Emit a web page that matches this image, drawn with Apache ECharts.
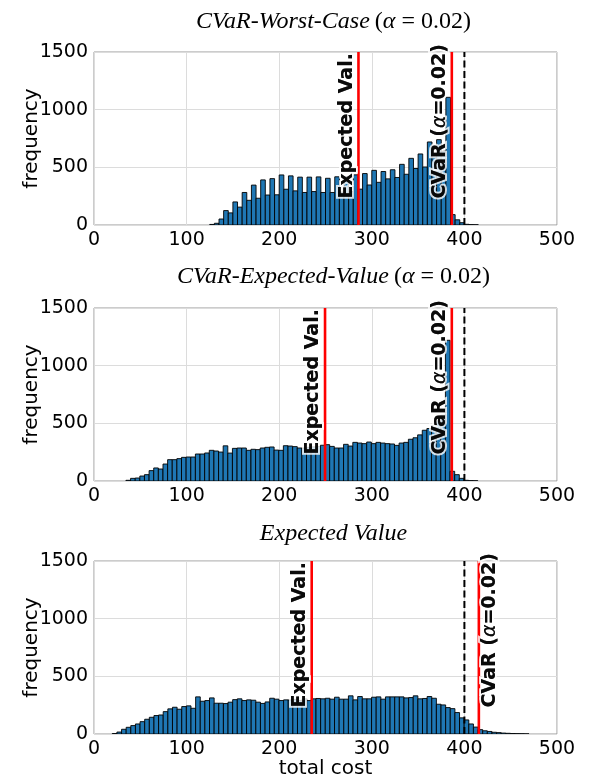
<!DOCTYPE html>
<html>
<head>
<meta charset="utf-8">
<script src="https://cdn.jsdelivr.net/npm/echarts@6/dist/echarts.min.js"></script>
<style>
html,body{margin:0;padding:0;background:#fff;}
#chart{width:592px;height:776px;}
</style>
</head>
<body>
<div id="chart"></div>
<script>
// ---------- data ----------
const binWidth = 5;
const xTicks = [0, 100, 200, 300, 400, 500];
const yTicks = [0, 500, 1000, 1500];

// Panel 1: CVaR-Worst-Case
const p1BinStart = 125;
const p1Counts = [5, 15, 52, 125, 105, 200, 155, 282, 214, 346, 232, 391, 260, 402, 262, 434, 310, 426, 296, 415,
  282, 415, 290, 417, 282, 405, 282, 418, 285, 420, 290, 435, 311, 446, 347, 474, 370, 464, 400, 479,
  412, 526, 440, 578, 490, 616, 503, 720, 590, 740, 640, 1107, 90, 45, 20, 6, 3, 2];
const p1ExpVal = 285.6;
const p1CVaR = 386.4;

// Panel 2: CVaR-Expected-Value
const p2BinStart = 34.5;
const p2Counts = [6, 23, 26, 43, 55, 90, 113, 104, 147, 185, 185, 194, 205, 208, 208, 234, 234, 243, 266, 260,
  251, 305, 242, 283, 286, 286, 266, 275, 272, 286, 292, 295, 268, 266, 306, 303, 298, 286, 286, 292,
  296, 300, 310, 315, 300, 286, 286, 318, 303, 335, 329, 324, 338, 324, 335, 329, 324, 321, 309, 329,
  335, 362, 375, 400, 440, 455, 480, 520, 570, 1220, 84, 55, 23, 6, 3, 2];
const p2ExpVal = 249.5;
const p2CVaR = 386.4;

// Panel 3: Expected Value
const p3BinStart = 19.75;
const p3Counts = [4, 17, 41, 58, 73, 87, 107, 128, 145, 160, 165, 194, 218, 232, 215, 238, 244, 223, 322, 284,
  290, 313, 267, 267, 264, 276, 298, 305, 290, 296, 293, 276, 265, 278, 310, 302, 290, 296, 295, 300,
  290, 305, 290, 305, 308, 305, 310, 302, 319, 302, 302, 331, 296, 325, 305, 305, 319, 322, 302, 322,
  322, 322, 322, 313, 316, 331, 305, 308, 325, 310, 258, 252, 229, 220, 186, 140, 122, 87, 60, 38,
  28, 22, 15, 12, 8, 6, 4, 3, 2, 1];
const p3ExpVal = 235.1;
const p3CVaR = 415.6;

const worstCaseLine = 400;
const labelHeight = 230;

const titles = [
  ['CVaR-Worst-Case', true],
  ['CVaR-Expected-Value', true],
  ['Expected Value', false]
];

// ---------- layout ----------
const grids = [
  {left: 94, top: 52, width: 463, height: 173},
  {left: 94, top: 308, width: 463, height: 173},
  {left: 94, top: 561, width: 463, height: 173}
];
const titleTops = [5, 260, 517];

const FONT = 'DejaVu Sans';
const SERIF = 'Liberation Serif';

function toBins(start, counts) {
  return counts.map((c, i) => [start + i * binWidth, c]);
}

const panels = [
  {bins: toBins(p1BinStart, p1Counts), exp: p1ExpVal, cvar: p1CVaR, cvarSide: 'left'},
  {bins: toBins(p2BinStart, p2Counts), exp: p2ExpVal, cvar: p2CVaR, cvarSide: 'left'},
  {bins: toBins(p3BinStart, p3Counts), exp: p3ExpVal, cvar: p3CVaR, cvarSide: 'right'}
];

const xAxes = [], yAxes = [], series = [], titleOpts = [];

function richLabel(halo) {
  const border = halo ? {textBorderColor: '#fff', textBorderWidth: 4} : {textBorderWidth: 0};
  return {
    b: Object.assign({fontFamily: FONT, fontWeight: 'bold', fontSize: 19, color: '#000'}, border),
    a: Object.assign({fontFamily: FONT, fontStyle: 'italic', fontWeight: 'normal', fontSize: 19, color: '#000'}, border)
  };
}

panels.forEach((p, k) => {
  xAxes.push({
    type: 'value', gridIndex: k, min: xTicks[0], max: xTicks[xTicks.length - 1], interval: 100,
    axisLine: {show: false}, axisTick: {show: false},
    axisLabel: {color: '#000', fontFamily: FONT, fontSize: 19, margin: 6, showMaxLabel: true, showMinLabel: true,
      formatter: v => String(v)},
    splitLine: {show: true, lineStyle: {color: '#dcdcdc', width: 1}},
    name: k === 2 ? 'total cost' : '',
    nameLocation: 'middle', nameGap: 25, nameMoveOverlap: false,
    nameTextStyle: {color: '#000', fontFamily: FONT, fontSize: 20}
  });
  yAxes.push({
    type: 'value', gridIndex: k, min: yTicks[0], max: yTicks[yTicks.length - 1], interval: 500,
    axisLine: {show: false}, axisTick: {show: false},
    axisLabel: {color: '#000', fontFamily: FONT, fontSize: 19, margin: 6, formatter: v => String(v)},
    splitLine: {show: true, lineStyle: {color: '#dcdcdc', width: 1}},
    name: 'frequency', nameLocation: 'middle', nameGap: 52, nameMoveOverlap: false,
    nameTextStyle: {color: '#000', fontFamily: FONT, fontSize: 20}
  });

  // histogram bars
  series.push({
    type: 'custom', xAxisIndex: k, yAxisIndex: k, z: 2,
    data: p.bins,
    encode: {x: 0, y: 1},
    clip: true,
    renderItem: function (params, api) {
      const x0 = api.value(0), c = api.value(1);
      const a = api.coord([x0, 0]);
      const b = api.coord([x0 + binWidth, c]);
      return {
        type: 'rect',
        shape: {x: a[0], y: b[1], width: b[0] - a[0], height: a[1] - b[1]},
        style: {fill: '#1f77b4', stroke: '#000', lineWidth: 0.9}
      };
    }
  });

  // vertical lines
  const vline = (v, color, type, width) => ({
    type: 'line', xAxisIndex: k, yAxisIndex: k, z: 5, symbol: 'none', silent: true,
    data: [[v, yTicks[0]], [v, yTicks[yTicks.length - 1]]],
    lineStyle: {color: color, type: type, width: width}
  });
  series.push(vline(p.exp, '#ff0000', 'solid', 2.6));
  series.push(vline(p.cvar, '#ff0000', 'solid', 2.6));
  series.push(vline(worstCaseLine, '#000', [7, 3.5], 2));

  // rotated labels (halo pass, then crisp pass)
  [true, false].forEach((halo, pass) => {
    const mkLabel = (v, text, side) => ({
      value: [v, labelHeight],
      label: {
        show: true, formatter: text, rotate: 90, color: '#000',
        position: side === 'left' ? [-2, 0] : [2, 0],
        align: 'left', verticalAlign: side === 'left' ? 'bottom' : 'top',
        rich: richLabel(halo)
      }
    });
    series.push({
      type: 'scatter', xAxisIndex: k, yAxisIndex: k, z: 10 + pass, symbolSize: 0, silent: true,
      itemStyle: {color: 'rgba(0,0,0,0)'},
      labelLayout: {hideOverlap: false},
      data: [
        mkLabel(p.exp, '{b|Expected Val.}', 'left'),
        mkLabel(p.cvar, '{b|CVaR (}{a|α}{b|=0.02)}', p.cvarSide)
      ]
    });
  });

  const t = titles[k];
  titleOpts.push({
    left: grids[k].left + grids[k].width / 2 + 3, top: titleTops[k], textAlign: 'center',
    text: t[1] ? '{i|' + t[0] + '} {n|(}{g|α}{n| = 0.02)}' : '{i|' + t[0] + '}',
    textStyle: {
      fontWeight: 'normal',
      rich: {
        i: {fontFamily: SERIF, fontStyle: 'italic', fontWeight: 'normal', fontSize: 24, color: '#000'},
        n: {fontFamily: SERIF, fontWeight: 'normal', fontSize: 24, color: '#000'},
        g: {fontFamily: SERIF, fontStyle: 'italic', fontWeight: 'normal', fontSize: 24, color: '#000'}
      }
    }
  });
});

const chart = echarts.init(document.getElementById('chart'), null, {renderer: 'canvas'});
chart.setOption({
  animation: false,
  backgroundColor: '#fff',
  title: titleOpts,
  grid: grids.map(g => Object.assign({show: true, borderColor: '#999', borderWidth: 1, backgroundColor: 'transparent',
    containLabel: false, outerBoundsMode: 'none'}, g)),
  xAxis: xAxes,
  yAxis: yAxes,
  series: series
});
</script>
</body>
</html>
